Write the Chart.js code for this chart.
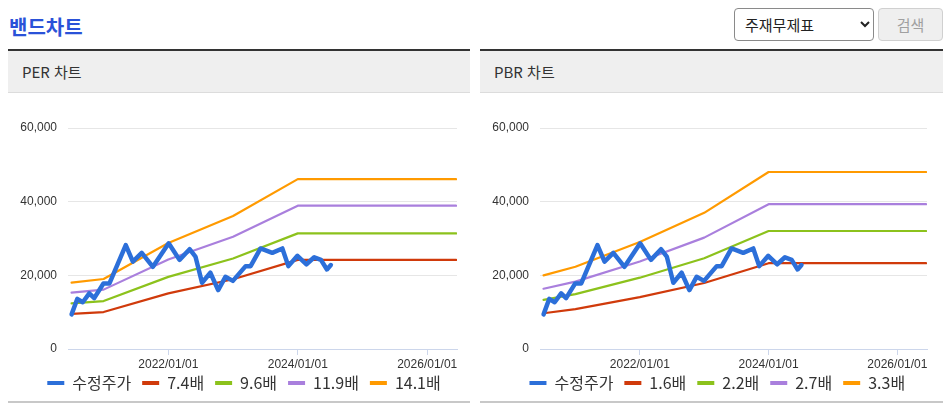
<!DOCTYPE html>
<html lang="ko">
<head>
<meta charset="utf-8">
<script src="https://cdn.jsdelivr.net/npm/chart.js@4.4.1/dist/chart.umd.min.js"></script>
<style>
  body { margin: 0; width: 947px; height: 411px; background: #fff; position: relative; overflow: hidden;
         font-family: "Noto Sans CJK KR", sans-serif; }
  #title { position: absolute; left: 9px; top: 12px; font-size: 20px; font-weight: bold; color: #2a52d8; line-height: 30px; }
  #sel { position: absolute; left: 734px; top: 8px; width: 140px; height: 33px; font-size: 15px; color: #222;
         border: 1px solid #8a8a8a; border-radius: 4px; background: #fff; padding-left: 6px; font-family: "Noto Sans CJK KR", sans-serif; }
  #btn { position: absolute; left: 878px; top: 8px; width: 65px; height: 33px; font-size: 15px; color: #a0a0a0;
         border: 1px solid #d0d0d0; border-radius: 4px; background: #efefef; font-family: "Noto Sans CJK KR", sans-serif; }
  .panel { position: absolute; top: 49px; height: 350px; border-top: 2px solid #333; border-bottom: 2px solid #c8c8c8; }
  .panel .hd { height: 41px; background: #efefef; border-bottom: 1px solid #dcdcdc; font-size: 15px; color: #333;
               line-height: 41px; padding-left: 14px; }
  .panel canvas { position: absolute; left: 0; top: 42px; }
</style>
</head>
<body>
<div id="title">밴드차트</div>
<select id="sel"><option>주재무제표</option></select>
<button id="btn" disabled>검색</button>

<div class="panel" style="left:8px; width:462px;">
  <div class="hd">PER 차트</div>
  <canvas id="perChart" width="462" height="316"></canvas>
</div>
<div class="panel" style="left:480px; width:463px;">
  <div class="hd">PBR 차트</div>
  <canvas id="pbrChart" width="463" height="316"></canvas>
</div>

<script>
// 수정주가
const priceDates = ['2020-07-04','2020-08-05','2020-09-05','2020-10-12','2020-11-09','2020-12-31','2021-02-03',
  '2021-05-06','2021-06-15','2021-08-04','2021-10-06','2022-01-03','2022-03-05','2022-05-01','2022-06-03',
  '2022-07-10','2022-08-26','2022-10-09','2022-11-19','2022-12-31','2023-03-13','2023-04-10','2023-06-05',
  '2023-08-10','2023-10-06','2023-11-09','2023-12-30','2024-02-19','2024-04-03','2024-05-11','2024-06-14','2024-07-06'];
const priceValues = [9400, 13600, 12700, 15100, 13800, 17800, 17800,
  28200, 23700, 26100, 22300, 28700, 24200, 27100, 25100,
  18000, 20700, 16000, 19600, 18500, 22500, 22500, 27300,
  26100, 27300, 22500, 25300, 23000, 24900, 24200, 21600, 22800];

// 밴드 라인
const bandDates = ['2020-07-04','2021-01-01','2022-01-01','2023-01-01','2024-01-01','2026-06-13'];
const perLabels = ['수정주가', '7.4배', '9.6배', '11.9배', '14.1배'];
const per74  = [9550, 10030, 15100, 18940, 24200, 24200];
const per96  = [12380, 13010, 19580, 24580, 31390, 31390];
const per119 = [15300, 16120, 24280, 30460, 38910, 38910];
const per141 = [18000, 19000, 28760, 36100, 46110, 46110];

const pbrLabels = ['수정주가', '1.6배', '2.2배', '2.7배', '3.3배'];
const pbr16 = [9700, 10830, 14080, 17920, 23300, 23300];
const pbr22 = [13330, 14890, 19360, 24640, 32030, 32030];
const pbr27 = [16360, 18280, 23760, 30240, 39310, 39310];
const pbr33 = [20000, 22340, 29040, 36960, 48050, 48050];

const xTickYears = [2022, 2024, 2026];
const xTickLabels = ['2022/01/01', '2024/01/01', '2026/01/01'];
const yTicks = [0, 20000, 40000, 60000];

const colors = ['#2c6fd9', '#d03a0b', '#8cc21c', '#a97fdd', '#ff9a00'];

// 날짜 -> 소수 연도
function toYear(s) {
  const d = new Date(s + 'T00:00:00Z');
  const y = d.getUTCFullYear();
  const a = Date.UTC(y, 0, 1), b = Date.UTC(y + 1, 0, 1);
  return y + (d.getTime() - a) / (b - a);
}
const pts = (dates, vals) => dates.map((d, i) => ({ x: toYear(d), y: vals[i] }));

// 범례 위치 보정
const legendShift = {
  id: 'legendShift',
  afterLayout(chart, args, opts) {
    chart.legend.left += opts.dx;
    chart.legend.right += opts.dx;
    chart.legend.top += opts.dy;
    chart.legend.bottom += opts.dy;
  }
};

function makeChart(id, labels, bands, padRight, dx) {
  const series = [pts(priceDates, priceValues)].concat(bands.map(b => pts(bandDates, b)));
  const datasets = series.map((data, i) => ({
    label: labels[i],
    data: data,
    borderColor: colors[i],
    backgroundColor: colors[i],
    borderWidth: i === 0 ? 4.5 : 2.2,
    borderJoinStyle: 'round',
    borderCapStyle: 'round',
    pointRadius: 0,
    tension: 0
  }));

  return new Chart(document.getElementById(id), {
    type: 'line',
    data: { datasets },
    plugins: [legendShift],
    options: {
      responsive: false,
      animation: false,
      layout: { padding: { top: 35, left: 0, right: padRight, bottom: 0 } },
      plugins: {
        tooltip: { enabled: false },
        legendShift: { dx: dx, dy: -8 },
        legend: {
          position: 'bottom',
          labels: {
            boxWidth: 17, boxHeight: 4, padding: 11, color: '#333',
            font: { size: 16, family: '"Noto Sans CJK KR", sans-serif' },
            generateLabels: c => Chart.defaults.plugins.legend.labels.generateLabels(c)
              .map(l => Object.assign(l, { lineWidth: 0, fillStyle: colors[l.datasetIndex] }))
          }
        }
      },
      scales: {
        x: {
          type: 'linear',
          min: 2020.45,
          max: 2026.46,
          afterBuildTicks: s => { s.ticks = xTickYears.map(v => ({ value: v })); },
          afterFit: s => { s.height = 23; },
          ticks: {
            padding: 2, maxRotation: 0, autoSkip: false, color: '#333',
            font: { size: 12, family: '"Liberation Sans", "Noto Sans CJK KR", sans-serif' },
            callback: (v, i) => xTickLabels[i]
          },
          grid: { drawOnChartArea: false, drawTicks: true, tickLength: 6, color: '#ccd6eb' },
          border: { color: '#ccd6eb', width: 1 }
        },
        y: {
          min: 0,
          max: 60000,
          afterBuildTicks: s => { s.ticks = yTicks.map(v => ({ value: v })); },
          afterFit: s => { s.width = 60; },
          ticks: {
            padding: 11, color: '#333',
            font: { size: 12, family: '"Liberation Sans", "Noto Sans CJK KR", sans-serif' },
            callback: v => v.toLocaleString('en-US')
          },
          grid: { drawTicks: false, color: c => c.tick && c.tick.value === 0 ? 'rgba(0,0,0,0)' : '#e6e6e6' },
          border: { display: false }
        }
      }
    }
  });
}

makeChart('perChart', perLabels, [per74, per96, per119, per141], 13, 11.5);
makeChart('pbrChart', pbrLabels, [pbr16, pbr22, pbr27, pbr33], 16, 13.8);
</script>
</body>
</html>
